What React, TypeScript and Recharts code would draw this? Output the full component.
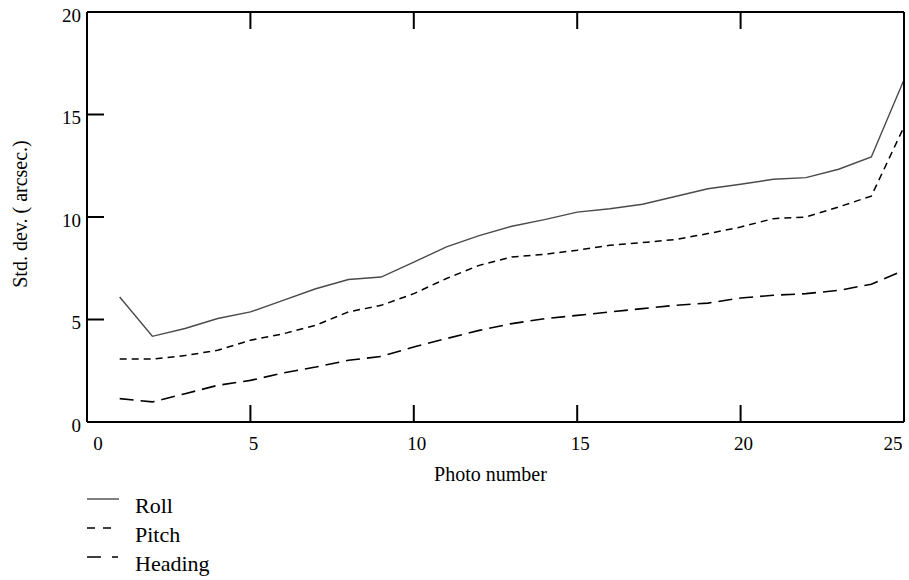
import { LineChart, Line, XAxis, YAxis } from "recharts";

const photoNumbers = [1, 2, 3, 4, 5, 6, 7, 8, 9, 10, 11, 12, 13, 14, 15, 16, 17, 18, 19, 20, 21, 22, 23, 24, 25];
const rollValues = [6.1, 4.18, 4.56, 5.05, 5.37, 5.93, 6.5, 6.95, 7.07, 7.8, 8.54, 9.09, 9.55, 9.87, 10.24, 10.4, 10.62, 11.0, 11.38, 11.6, 11.84, 11.92, 12.33, 12.93, 16.7];
const pitchValues = [3.07, 3.07, 3.24, 3.5, 3.99, 4.3, 4.72, 5.37, 5.69, 6.26, 7.0, 7.64, 8.05, 8.18, 8.38, 8.62, 8.75, 8.9, 9.19, 9.51, 9.92, 10.0, 10.49, 11.02, 14.4];
const headingValues = [1.14, 0.98, 1.38, 1.79, 2.03, 2.39, 2.68, 3.01, 3.2, 3.66, 4.07, 4.47, 4.8, 5.04, 5.2, 5.37, 5.53, 5.69, 5.8, 6.05, 6.18, 6.26, 6.42, 6.72, 7.4];

const xTicks = [0, 5, 10, 15, 20, 25];
const yTicks = [0, 5, 10, 15, 20];

const data = photoNumbers.map((n, i) => ({
    n,
    roll: rollValues[i],
    pitch: pitchValues[i],
    heading: headingValues[i],
}));

const series = [
    { key: "roll", name: "Roll", stroke: "#4a4a4a", width: 1.4, dash: undefined, legendDash: undefined },
    { key: "pitch", name: "Pitch", stroke: "#000000", width: 1.5, dash: "7 5", legendDash: "8 8" },
    { key: "heading", name: "Heading", stroke: "#000000", width: 1.6, dash: "14 7", legendDash: "14 11 6 100" },
];

const FONT = "'Liberation Serif', 'Times New Roman', serif";
const textStyle = { fontFamily: FONT };
const TICK_LEN = 17;

const XTick = ({ x, y, payload }: any) => {
    const v = payload.value;
    const dx = v === 0 ? 11 : v === 25 ? -8 : 3;
    return (
        <text x={x + dx} y={y} dy="0.71em" textAnchor="middle" fontSize={19} style={textStyle} fill="#000">
            {v}
        </text>
    );
};

const YTick = ({ x, y, payload }: any) => (
    <text x={x} y={y + 3} dy="0.355em" textAnchor="end" fontSize={19} style={textStyle} fill="#000">
        {payload.value}
    </text>
);

const NoLabel = () => <g />;

const frame = { stroke: "#000", strokeWidth: 2 };

export default function App() {
    return (
        <div style={{ position: "absolute", left: 0, top: 0, width: 909, height: 580, background: "#fff", fontFamily: FONT }}>
            <LineChart width={909} height={580} data={data} margin={{ top: 12, right: 4, left: 7, bottom: 128 }}>
                {/* bottom axis: inward ticks (negative size), labels pushed back below */}
                <XAxis
                    xAxisId="b"
                    dataKey="n"
                    type="number"
                    domain={[0, 25]}
                    ticks={xTicks}
                    height={30}
                    tickLine={frame}
                    tickSize={-TICK_LEN}
                    tickMargin={TICK_LEN + 15}
                    axisLine={frame}
                    tick={<XTick />}
                    label={{
                        content: ({ viewBox }: any) => (
                            <text
                                x={viewBox.x + viewBox.width / 2 - 5}
                                y={481}
                                textAnchor="middle"
                                fontSize={20}
                                style={textStyle}
                                fill="#000"
                            >
                                Photo number
                            </text>
                        ),
                    }}
                />
                <XAxis
                    xAxisId="t"
                    dataKey="n"
                    type="number"
                    orientation="top"
                    domain={[0, 25]}
                    ticks={xTicks}
                    mirror
                    tick={<NoLabel />}
                    tickSize={TICK_LEN}
                    tickLine={frame}
                    axisLine={frame}
                />
                <YAxis
                    yAxisId="l"
                    type="number"
                    domain={[0, 20]}
                    ticks={yTicks}
                    width={80}
                    tickLine={frame}
                    tickSize={-TICK_LEN}
                    tickMargin={TICK_LEN + 6}
                    axisLine={frame}
                    tick={<YTick />}
                    label={{
                        content: ({ viewBox }: any) => {
                            const cx = 20;
                            const cy = viewBox.y + viewBox.height / 2 - 3;
                            return (
                                <text
                                    x={cx}
                                    y={cy}
                                    transform={`rotate(-90 ${cx} ${cy})`}
                                    textAnchor="middle"
                                    dominantBaseline="central"
                                    fontSize={20}
                                    style={textStyle}
                                    fill="#000"
                                >
                                    Std. dev. ( arcsec.)
                                </text>
                            );
                        },
                    }}
                />
                <YAxis
                    yAxisId="r"
                    type="number"
                    orientation="right"
                    domain={[0, 20]}
                    ticks={yTicks}
                    width={1}
                    tickSize={-TICK_LEN}
                    tickMargin={0}
                    tickLine={frame}
                    tick={<NoLabel />}
                    axisLine={frame}
                />
                {series.map((s) => (
                    <Line
                        key={s.key}
                        xAxisId="b"
                        yAxisId="l"
                        type="linear"
                        dataKey={s.key}
                        name={s.name}
                        stroke={s.stroke}
                        strokeWidth={s.width}
                        strokeDasharray={s.dash}
                        dot={false}
                        activeDot={false}
                        isAnimationActive={false}
                    />
                ))}
            </LineChart>
            <svg width={909} height={580} style={{ position: "absolute", left: 0, top: 0, pointerEvents: "none" }}>
                {series.map((s, i) => {
                    const y = 499 + i * 29;
                    return (
                        <g key={s.key}>
                            <line
                                x1={87}
                                x2={119}
                                y1={y}
                                y2={y}
                                stroke={s.stroke}
                                strokeWidth={s.width}
                                strokeDasharray={s.legendDash}
                            />
                            <text x={135} y={y + 14} fontSize={22} style={textStyle} fill="#000">
                                {s.name}
                            </text>
                        </g>
                    );
                })}
            </svg>
        </div>
    );
}
